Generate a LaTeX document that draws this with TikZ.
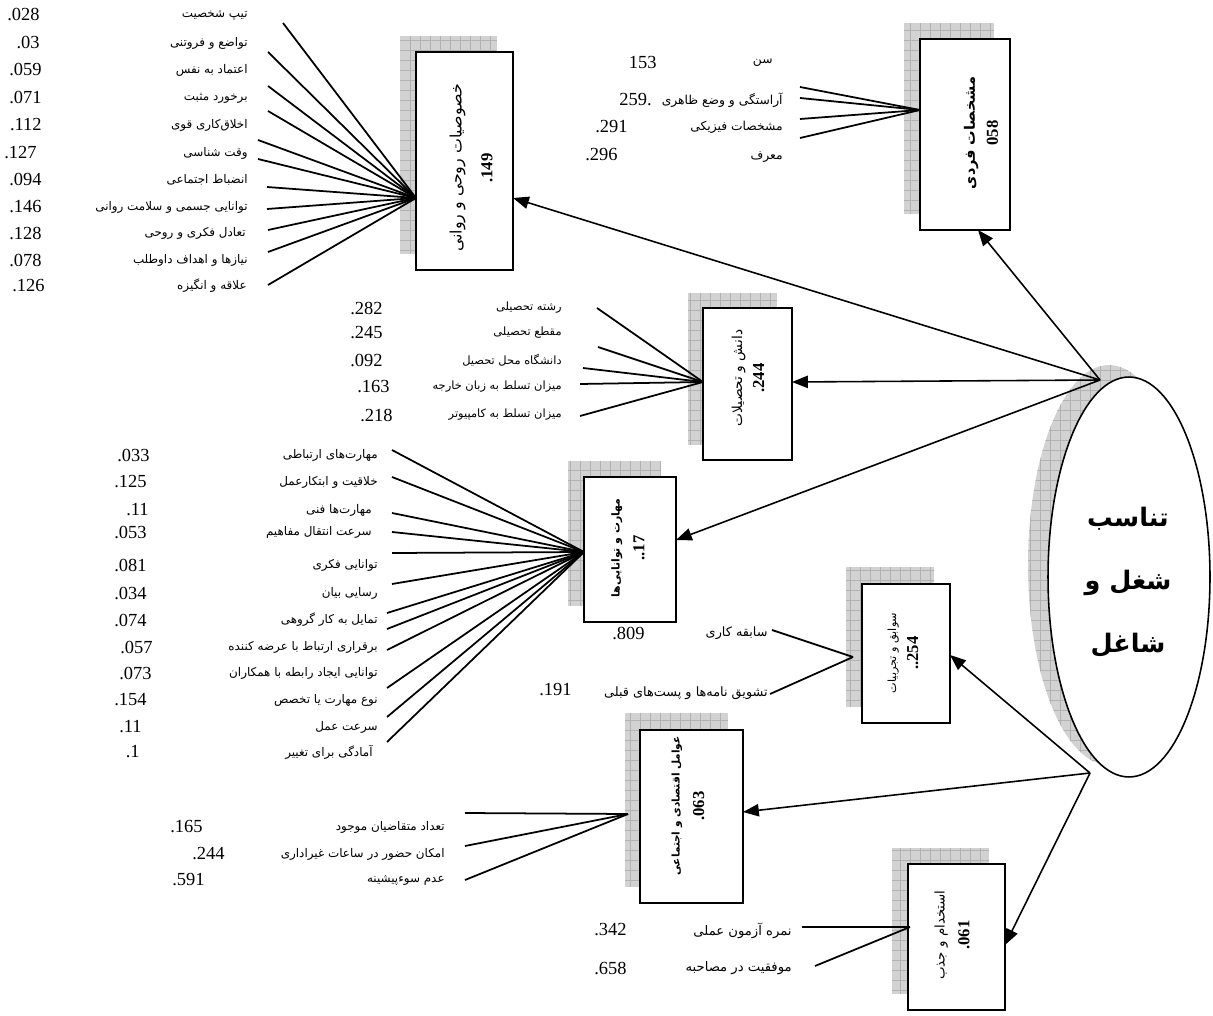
\documentclass[tikz,border=0pt]{standalone}
\usepackage{fontspec}
\setmainfont{Liberation Serif}
\newfontfamily\persianfont[Script=Arabic]{DejaVu Sans}
\TeXXeTstate=1
\usetikzlibrary{arrows.meta,positioning,shapes.geometric}
\newcommand{\fatext}[1]{{\persianfont\beginR #1\endR}}
\newcommand{\boxnum}[1]{{\fontsize{9.5}{10}\selectfont\bfseries #1}}

\begin{document}
\begin{tikzpicture}[
  x=0.02cm, y=-0.02cm,
  factor/.style={draw, line width=0.9pt, fill=white, inner sep=0pt},
  boxtxt/.style={rotate=90, align=center, inner sep=0pt},
  lbl/.style={anchor=east, inner sep=0pt, font=\fontsize{6.8}{8}\selectfont},
  num/.style={anchor=east, inner sep=0pt, font=\fontsize{10.5}{12}\selectfont},
  spoke/.style={line width=1pt},
  link/.style={line width=0.9pt, -{Triangle[length=9pt,width=7pt]}},
  shade/.style={fill=gray!35},
  shadegrid/.style={draw=gray!60, line width=0.3pt, step=0.2cm},
]
\useasboundingbox (0,0) rectangle (1213,1016);

% shadows
\fill[shade] (904,23) rectangle (994,214);
\draw[shadegrid] (904,23) grid (994,214);
\fill[shade] (400,36) rectangle (497,254);
\draw[shadegrid] (400,36) grid (497,254);
\fill[shade] (688,293) rectangle (777,445);
\draw[shadegrid] (688,293) grid (777,445);
\fill[shade] (568,461) rectangle (660,606);
\draw[shadegrid] (568,461) grid (660,606);
\fill[shade] (846,567) rectangle (934,707);
\draw[shadegrid] (846,567) grid (934,707);
\fill[shade] (625,713) rectangle (728,887);
\draw[shadegrid] (625,713) grid (728,887);
\fill[shade] (892,848) rectangle (989,994);
\draw[shadegrid] (892,848) grid (989,994);
\begin{scope}
  \clip (1109,565) ellipse [x radius=1.62cm, y radius=4cm];
  \fill[shade] (1020,350) rectangle (1200,780);
  \draw[shadegrid] (1020,350) grid (1200,780);
\end{scope}

% factor boxes
\node[factor, minimum width=1.8cm, minimum height=3.82cm] (b1) at (965,134.5) {};
\node[factor, minimum width=1.94cm, minimum height=4.36cm] (b2) at (464.5,161) {};
\node[factor, minimum width=1.78cm, minimum height=3.04cm] (b3) at (747.5,384) {};
\node[factor, minimum width=1.84cm, minimum height=2.9cm] (b4) at (630,549.5) {};
\node[factor, minimum width=1.76cm, minimum height=2.78cm] (b5) at (906,653.5) {};
\node[factor, minimum width=2.06cm, minimum height=3.46cm] (b6) at (691.5,816.5) {};
\node[factor, minimum width=1.94cm, minimum height=2.92cm] (b7) at (956.5,937) {};

\node[boxtxt, font=\fontsize{8.2}{13}\selectfont] (t1) at (981,133)
  {\textbf{\fatext{مشخصات فردی}}\\ \boxnum{058}};
\node[boxtxt, font=\fontsize{9}{17.5}\selectfont] (t2) at (471,168)
  {\fatext{خصوصیات روحی و روانی}\\ \boxnum{.149}};
\node[boxtxt, font=\fontsize{7.8}{12.5}\selectfont] (t3) at (748,378)
  {\fatext{دانش و تحصیلات}\\ \boxnum{.244}};
\node[boxtxt, font=\fontsize{6.2}{14}\selectfont] (t4) at (628,548)
  {\textbf{\fatext{مهارت و توانایی‌ها}}\\ \boxnum{..17}};
\node[boxtxt, font=\fontsize{6.4}{12.5}\selectfont] (t5) at (903,653)
  {\fatext{سوابق و تجربیات}\\ \boxnum{..254}};
\node[boxtxt, font=\fontsize{6}{14}\selectfont] (t6) at (688,806)
  {\textbf{\fatext{عوامل اقتصادی و اجتماعی}}\\ \boxnum{.063}};
\node[boxtxt, font=\fontsize{7.6}{14}\selectfont] (t7) at (952,935)
  {\fatext{استخدام و جذب}\\ \boxnum{.061}};

% central ellipse
\node[ellipse, draw, line width=0.9pt, fill=white, inner sep=0pt,
  minimum width=3.24cm, minimum height=8cm] (fit) at (1129,577) {};
\node[align=center, font=\fontsize{14.5}{36}\selectfont\bfseries] (fittxt) at (1128,582)
  {\fatext{تناسب}\\ \fatext{شغل و}\\ \fatext{شاغل}};

% arrows from the ellipse
\coordinate (etop) at (1100,380);
\coordinate (ebot) at (1090,773);
\coordinate (in1) at (978,230);
\coordinate (in2) at (513,198);
\coordinate (in3) at (792,382);
\coordinate (in4) at (676,540);
\coordinate (in5) at (950,655);
\coordinate (in6) at (743,812);
\coordinate (in7) at (1005,945);
\draw[link] (etop) -- (in1);
\draw[link] (etop) -- (in2);
\draw[link] (etop) -- (in3);
\draw[link] (etop) -- (in4);
\draw[link] (ebot) -- (in5);
\draw[link] (ebot) -- (in6);
\draw[link] (ebot) -- (in7);

% entry points of the indicators
\coordinate (p1) at (920,110);
\coordinate (p2) at (416,198);
\coordinate (p3) at (703,382);
\coordinate (p4) at (584,552);
\coordinate (p5) at (853,657);
\coordinate (p6) at (628,814);
\coordinate (p7) at (910,927);

% individual traits
\node[lbl, font=\fontsize{7}{9}\selectfont] (l11) at (773,63) {\fatext{سن}};
\node[lbl, font=\fontsize{7}{9}\selectfont] (l12) at (783,100) {\fatext{آراستگی و وضع ظاهری}};
\node[lbl, font=\fontsize{7}{9}\selectfont] (l13) at (783,127) {\fatext{مشخصات فیزیکی}};
\node[lbl, font=\fontsize{7}{9}\selectfont] (l14) at (783,157) {\fatext{معرف}};
\node[num] (n11) at (657,62) {153};
\node[num] (n12) at (652,100) {259.};
\node[num] (n13) at (628,127) {.291};
\node[num] (n14) at (618,155) {.296};
\coordinate (s11) at (800,87);
\coordinate (s12) at (800,98);
\coordinate (s13) at (800,119);
\coordinate (s14) at (800,138);
\draw[spoke] (s11) -- (p1);
\draw[spoke] (s12) -- (p1);
\draw[spoke] (s13) -- (p1);
\draw[spoke] (s14) -- (p1);

% mental and psychological traits
\node[lbl] (l21) at (248,15) {\fatext{تیپ شخصیت}};
\node[lbl] (l22) at (248,43) {\fatext{تواضع و فروتنی}};
\node[lbl] (l23) at (248,70) {\fatext{اعتماد به نفس}};
\node[lbl] (l24) at (248,98) {\fatext{برخورد مثبت}};
\node[lbl] (l25) at (248,125) {\fatext{اخلاق‌کاری قوی}};
\node[lbl] (l26) at (248,153) {\fatext{وقت شناسی}};
\node[lbl] (l27) at (248,180) {\fatext{انضباط اجتماعی}};
\node[lbl] (l28) at (248,207) {\fatext{توانایی جسمی و سلامت روانی}};
\node[lbl] (l29) at (246,233) {\fatext{تعادل فکری و روحی}};
\node[lbl] (l210) at (248,260) {\fatext{نیازها و اهداف داوطلب}};
\node[lbl] (l211) at (247,286) {\fatext{علاقه و انگیزه}};
\node[num] (n21) at (40,15) {.028};
\node[num] (n22) at (40,43) {.03};
\node[num] (n23) at (42,70) {.059};
\node[num] (n24) at (42,98) {.071};
\node[num] (n25) at (42,125) {.112};
\node[num] (n26) at (37,153) {.127};
\node[num] (n27) at (42,180) {.094};
\node[num] (n28) at (42,207) {.146};
\node[num] (n29) at (42,233) {.128};
\node[num] (n210) at (42,260) {.078};
\node[num] (n211) at (45,286) {.126};
\coordinate (s21) at (283,23);
\coordinate (s22) at (268,52);
\coordinate (s23) at (268,86);
\coordinate (s24) at (268,111);
\coordinate (s25) at (258,140);
\coordinate (s26) at (258,159);
\coordinate (s27) at (267,187);
\coordinate (s28) at (267,209);
\coordinate (s29) at (268,230);
\coordinate (s210) at (268,252);
\coordinate (s211) at (268,285);
\draw[spoke] (s21) -- (p2);
\draw[spoke] (s22) -- (p2);
\draw[spoke] (s23) -- (p2);
\draw[spoke] (s24) -- (p2);
\draw[spoke] (s25) -- (p2);
\draw[spoke] (s26) -- (p2);
\draw[spoke] (s27) -- (p2);
\draw[spoke] (s28) -- (p2);
\draw[spoke] (s29) -- (p2);
\draw[spoke] (s210) -- (p2);
\draw[spoke] (s211) -- (p2);

% knowledge and education
\node[lbl, font=\fontsize{6.5}{8}\selectfont] (l31) at (562,308) {\fatext{رشته تحصیلی}};
\node[lbl, font=\fontsize{6.5}{8}\selectfont] (l32) at (562,333) {\fatext{مقطع تحصیلی}};
\node[lbl, font=\fontsize{6.5}{8}\selectfont] (l33) at (562,360) {\fatext{دانشگاه محل تحصیل}};
\node[lbl, font=\fontsize{6.5}{8}\selectfont] (l34) at (562,387) {\fatext{میزان تسلط به زبان خارجه}};
\node[lbl, font=\fontsize{6.5}{8}\selectfont] (l35) at (562,415) {\fatext{میزان تسلط به کامپیوتر}};
\node[num] (n31) at (383,308) {.282};
\node[num] (n32) at (383,333) {.245};
\node[num] (n33) at (383,360) {.092};
\node[num] (n34) at (390,387) {.163};
\node[num] (n35) at (393,415) {.218};
\coordinate (s31) at (597,308);
\coordinate (s32) at (598,347);
\coordinate (s33) at (583,368);
\coordinate (s34) at (580,384);
\coordinate (s35) at (580,416);
\draw[spoke] (s31) -- (p3);
\draw[spoke] (s32) -- (p3);
\draw[spoke] (s33) -- (p3);
\draw[spoke] (s34) -- (p3);
\draw[spoke] (s35) -- (p3);

% skills and abilities
\node[lbl] (l41) at (378,455) {\fatext{مهارت‌های ارتباطی}};
\node[lbl] (l42) at (378,482) {\fatext{خلاقیت و ابتکارعمل}};
\node[lbl] (l43) at (372,510) {\fatext{مهارت‌ها فنی}};
\node[lbl] (l44) at (372,532) {\fatext{سرعت انتقال مفاهیم}};
\node[lbl] (l45) at (378,565) {\fatext{توانایی فکری}};
\node[lbl] (l46) at (378,593) {\fatext{رسایی بیان}};
\node[lbl] (l47) at (378,620) {\fatext{تمایل به کار گروهی}};
\node[lbl] (l48) at (378,647) {\fatext{برقراری ارتباط با عرضه کننده}};
\node[lbl] (l49) at (378,673) {\fatext{توانایی ایجاد رابطه با همکاران}};
\node[lbl] (l410) at (378,700) {\fatext{نوع مهارت یا تخصص}};
\node[lbl] (l411) at (378,727) {\fatext{سرعت عمل}};
\node[lbl] (l412) at (373,752) {\fatext{آمادگی برای تغییر}};
\node[num] (n41) at (150,455) {.033};
\node[num] (n42) at (147,482) {.125};
\node[num] (n43) at (149,510) {.11};
\node[num] (n44) at (147,532) {.053};
\node[num] (n45) at (147,565) {.081};
\node[num] (n46) at (147,593) {.034};
\node[num] (n47) at (147,620) {.074};
\node[num] (n48) at (153,647) {.057};
\node[num] (n49) at (152,673) {.073};
\node[num] (n410) at (147,700) {.154};
\node[num] (n411) at (142,727) {.11};
\node[num] (n412) at (140,752) {.1};
\coordinate (s41) at (392,450);
\coordinate (s42) at (392,477);
\coordinate (s43) at (392,513);
\coordinate (s44) at (392,532);
\coordinate (s45) at (392,553);
\coordinate (s46) at (392,584);
\coordinate (s47) at (387,613);
\coordinate (s48) at (387,629);
\coordinate (s49) at (387,650);
\coordinate (s410) at (387,688);
\coordinate (s411) at (387,717);
\coordinate (s412) at (387,742);
\draw[spoke] (s41) -- (p4);
\draw[spoke] (s42) -- (p4);
\draw[spoke] (s43) -- (p4);
\draw[spoke] (s44) -- (p4);
\draw[spoke] (s45) -- (p4);
\draw[spoke] (s46) -- (p4);
\draw[spoke] (s47) -- (p4);
\draw[spoke] (s48) -- (p4);
\draw[spoke] (s49) -- (p4);
\draw[spoke] (s410) -- (p4);
\draw[spoke] (s411) -- (p4);
\draw[spoke] (s412) -- (p4);
\node[num] (n4) at (645,633) {.809};

% experience
\node[lbl, font=\fontsize{7.3}{9}\selectfont] (l51) at (768,633) {\fatext{سابقه کاری}};
\node[lbl, font=\fontsize{7.3}{9}\selectfont] (l52) at (768,693) {\fatext{تشویق نامه‌ها و پست‌های قبلی}};
\node[num] (n52) at (572,690) {.191};
\coordinate (s51) at (772,630);
\coordinate (s52) at (770,694);
\draw[spoke] (s51) -- (p5);
\draw[spoke] (s52) -- (p5);

% economic and social factors
\node[lbl] (l61) at (445,827) {\fatext{تعداد متقاضیان موجود}};
\node[lbl] (l62) at (445,854) {\fatext{امکان حضور در ساعات غیراداری}};
\node[lbl] (l63) at (445,880) {\fatext{عدم سوءپیشینه}};
\node[num] (n61) at (203,827) {.165};
\node[num] (n62) at (225,854) {.244};
\node[num] (n63) at (205,880) {.591};
\coordinate (s61) at (465,813);
\coordinate (s62) at (465,846);
\coordinate (s63) at (465,880);
\draw[spoke] (s61) -- (p6);
\draw[spoke] (s62) -- (p6);
\draw[spoke] (s63) -- (p6);

% recruitment
\node[lbl, font=\fontsize{7.5}{9}\selectfont] (l71) at (792,931) {\fatext{نمره آزمون عملی}};
\node[lbl, font=\fontsize{7.5}{9}\selectfont] (l72) at (792,968) {\fatext{موفقیت در مصاحبه}};
\node[num] (n71) at (627,930) {.342};
\node[num] (n72) at (627,968) {.658};
\coordinate (s71) at (802,927);
\coordinate (s72) at (815,966);
\draw[spoke] (s71) -- (p7);
\draw[spoke] (s72) -- (p7);

\end{tikzpicture}
\end{document}
